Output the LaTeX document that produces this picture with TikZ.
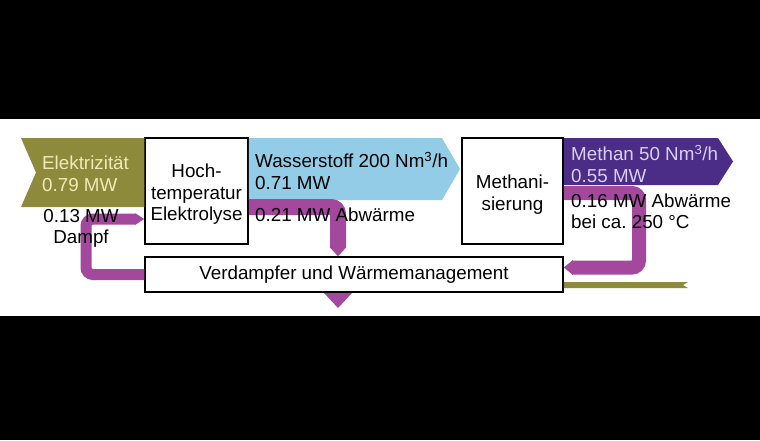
\documentclass[tikz,border=0pt]{standalone}
\usepackage{fontspec}
\setmainfont{Liberation Sans}
\usetikzlibrary{arrows.meta}

\definecolor{powerolive}{HTML}{8D8A3C}
\definecolor{powertext}{HTML}{EFEAB8}
\definecolor{hydroblue}{HTML}{92CCE6}
\definecolor{methanviolet}{HTML}{4B2C86}
\definecolor{methantext}{HTML}{D9CFF2}
\definecolor{heatpurple}{HTML}{A3489C}

\begin{document}
\begin{tikzpicture}[x=1pt,y=-1pt,
  every node/.style={font=\fontsize{18.8}{21.5}\selectfont},
  box/.style={draw=black,line width=1.5pt,fill=white,inner sep=0pt,align=center},
  flowtext/.style={inner sep=0pt,align=left,anchor=west},
  heatpipe/.style={draw=heatpurple,line width=#1,rounded corners=7pt,
    -{Triangle[length=9pt,width=#1]}}]
% Frame (black bands)
\useasboundingbox (0,0) rectangle (760,440);
\fill[black] (0,0) rectangle (760,440);
\fill[white] (0,119) rectangle (760,316);
% Boxes
\node[box,minimum width=103pt,minimum height=106pt] (elektro) at (196.5,191) {\rule{0pt}{20pt}Hoch-\\temperatur\\Elektrolyse};
\node[box,minimum width=101pt,minimum height=106pt] (meth) at (512.5,191) {\rule{0pt}{21pt}Methani-\\sierung};
\node[box,minimum width=418pt,minimum height=35pt] (verd) at (354,274.5) {Verdampfer und Wärmemanagement};
% Main flows
\fill[powerolive] (21,138) -- (elektro.west |- 0,138) -- (elektro.west |- 0,207) -- (21,207) -- (36,172.5) -- cycle;
\fill[hydroblue] (elektro.east |- 0,138) -- (442,138) -- (460,169) -- (442,200) -- (elektro.east |- 0,200) -- cycle;
\fill[methanviolet] (meth.east |- 0,138) -- (718,138) -- (733,161.5) -- (718,185) -- (meth.east |- 0,185) -- cycle;
\fill[powerolive] (verd.east |- 0,282) -- (688,282) -- (683,285) -- (688,288) -- (verd.east |- 0,288) -- cycle;
% Heat flows
\draw[heatpipe=11pt] (verd.west) -- (86,274.5) -- (86,219) -- (elektro.west |- 0,219);
\draw[heatpipe=16pt] (elektro.east |- 0,207) -- (338,207) -- (338,0 |- verd.north);
\draw[heatpipe=14pt] (meth.east |- 0,193) -- (639,193) -- (639,267.5) -- (verd.east |- 0,267.5);
\fill[heatpurple] (324,293) -- (352,293) -- (338,308) -- cycle;
% Flow labels
\node[flowtext,text=powertext] (elabel) at (42,174) {Elektrizität\\0.79 MW};
\node[flowtext] (hlabel) at (255,171) {Wasserstoff 200 Nm\textsuperscript{3}/h\\0.71 MW};
\node[flowtext] (hloss) at (255,215) {0.21 MW Abwärme};
\node[flowtext,text=methantext] (mlabel) at (571,164) {Methan 50 Nm\textsuperscript{3}/h\\0.55 MW};
\node[flowtext] (mloss) at (571,211.5) {0.16 MW Abwärme\\bei ca.\ 250 °C};
\node[inner sep=0pt,align=center] (dlabel) at (81,228.5) {0.13 MW\\Dampf};
\end{tikzpicture}
\end{document}
